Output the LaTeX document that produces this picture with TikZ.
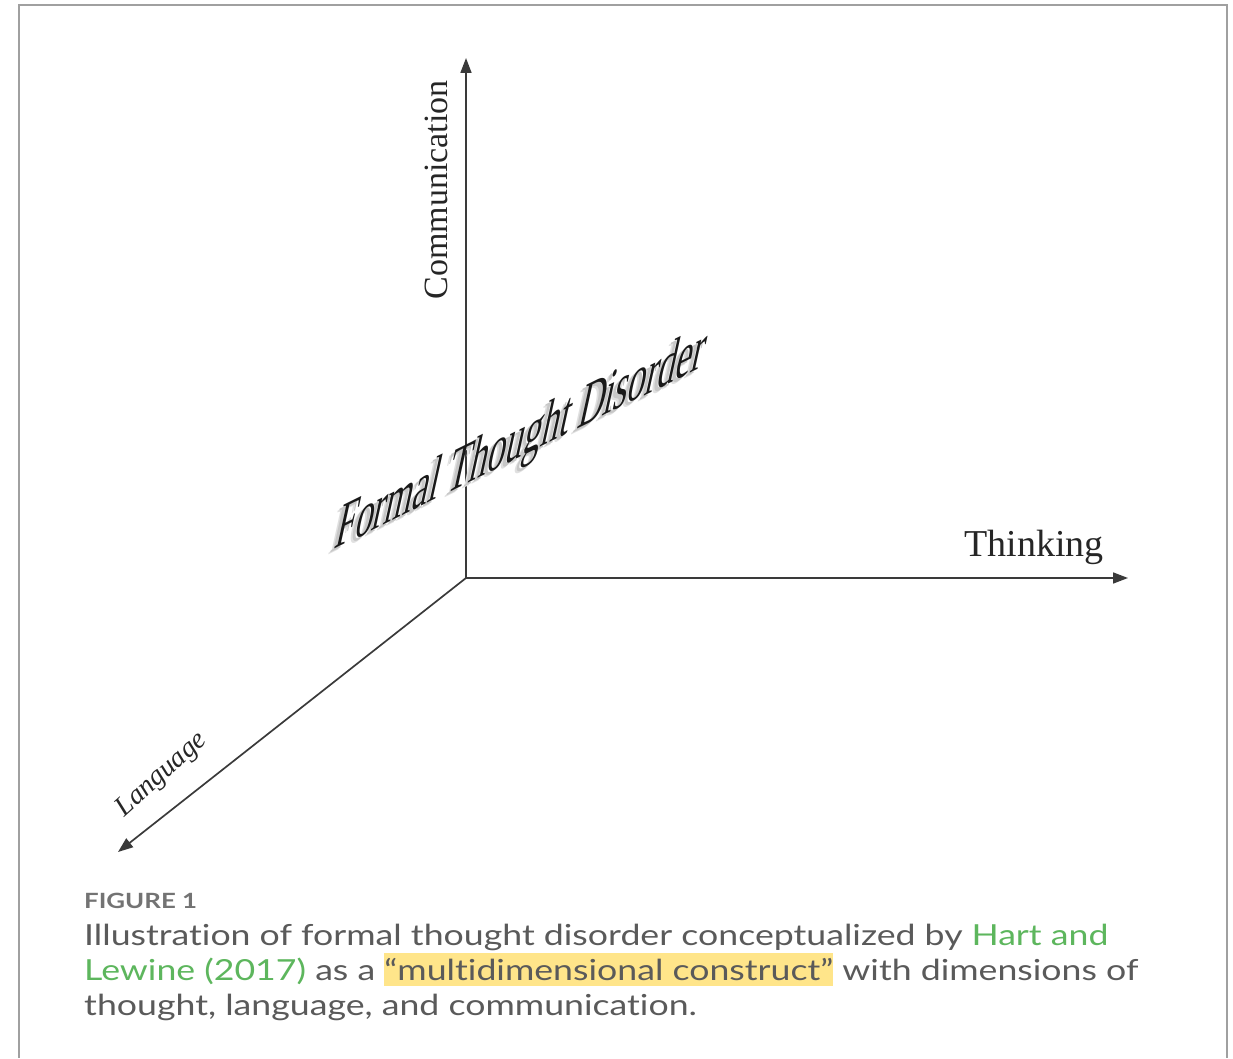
\documentclass[tikz,border=0pt]{standalone}
\usepackage{fontspec}
\setmainfont{Liberation Serif}
\newfontfamily\capfont[FakeStretch=1.23, Ligatures={NoCommon}]{Lato}
\usetikzlibrary{arrows.meta}
\definecolor{axisgray}{HTML}{3A3A3A}
\definecolor{framegray}{HTML}{A0A0A0}
\definecolor{captext}{HTML}{5A5A5A}
\definecolor{capgreen}{HTML}{5DB65D}
\definecolor{hlyellow}{HTML}{FFE58A}
\tikzset{
  axis/.style={draw=axisgray, line width=1.7pt, -{Triangle[length=15pt,width=11pt]}},
  axislabel/.style={inner sep=0pt, text=black!85},
  captionline/.style={anchor=base west, inner sep=0pt, text=captext, font=\capfont\fontsize{29}{35}\selectfont},
  ftd/.style={inner sep=0pt, anchor=base west, font=\fontsize{67}{70}\selectfont, cm={0.535,0.265,0.22,1,(0,0)}},
}
\begin{document}
\begin{tikzpicture}[x=1pt,y=1pt]
\useasboundingbox (0,0) rectangle (1233,1058);
% frame
\draw[framegray, line width=2.2pt] (19,0) -- (19,1053) -- (1227,1053) -- (1227,0);
% axes
\coordinate (O) at (466,480);
\coordinate (C) at (466,1000);
\coordinate (T) at (1128,480);
\coordinate (L) at (118,206);
\draw[axis] (O) -- (C);
\draw[axis] (O) -- (T);
\draw[axis] (O) -- (L);
% labels
\node[axislabel, rotate=90, font=\fontsize{34}{36}\selectfont] (comm) at (436,868) {Communication};
\node[axislabel, anchor=base, font=\fontsize{38}{40}\selectfont] (think) at (1034,501) {Thinking};
\node[axislabel, rotate=42, font=\itshape\fontsize{28}{30}\selectfont] (lang) at (162,283) {Language};
% formal thought disorder with soft shadow
\node[ftd, text=black!12] (ftds1) at (327,502) {Formal Thought Disorder};
\node[ftd, text=black!22] (ftds2) at (329,504) {Formal Thought Disorder};
\node[ftd, text=black!90] (ftdmain) at (333,508) {Formal Thought Disorder};
% caption
\node[captionline, font=\capfont\bfseries\fontsize{21}{24}\selectfont, text=black!55] (fig) at (84,150) {FIGURE 1};
\node[captionline] (c1) at (84,113) {Illustration of formal thought disorder conceptualized by \textcolor{capgreen}{Hart and}};
\node[captionline] (c2) at (84,78) {\textcolor{capgreen}{Lewine (2017)} as a {\setlength{\fboxsep}{0pt}\colorbox{hlyellow}{\rule[-6pt]{0pt}{33pt}“multidimensional construct”}} with dimensions of};
\node[captionline] (c3) at (84,43) {thought, language, and communication.};
\end{tikzpicture}
\end{document}
